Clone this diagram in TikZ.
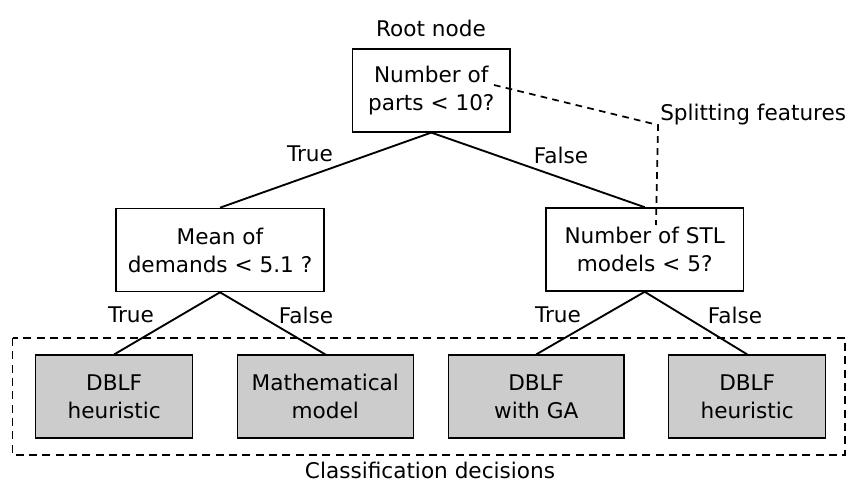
\documentclass[tikz,border=0pt]{standalone}
\usepackage{fontspec}
\setmainfont{DejaVu Sans}
\definecolor{leafgray}{HTML}{CCCCCC}
\begin{document}
\begin{tikzpicture}[x=0.75pt,y=-0.75pt,
  every node/.style={font=\fontsize{16.2}{21}\selectfont, inner sep=0pt},
  splitbox/.style={draw, line width=1.15pt, fill=white, align=center, minimum height=62.3pt},
  leafbox/.style={draw, line width=1.15pt, fill=leafgray, align=center, minimum height=62.3pt},
  edge/.style={line width=1.4pt},
  callout/.style={line width=1.3pt, dash pattern=on 5pt off 4pt},
  lbl/.style={}]
\useasboundingbox (0,0) rectangle (848,484);
% outer dashed group
\draw[line width=1.1pt, dash pattern=on 6pt off 4pt] (12.7,338) rectangle (845,455);
% nodes
\node[lbl] (rootlbl) at (431,28) {Root node};
\node[splitbox, minimum width=118pt] (root) at (431.3,90.3) {Number of\\parts < 10?};
\node[splitbox, minimum width=156pt] (midL) at (220,250) {Mean of\\demands < 5.1 ?};
\node[splitbox, minimum width=148pt] (midR) at (644.7,249.5) {Number of STL\\models < 5?};
\node[leafbox, minimum width=117.75pt] (leaf1) at (114.2,396.7) {DBLF\\heuristic};
\node[leafbox, minimum width=132pt] (leaf2) at (325.3,396.7) {Mathematical\\model};
\node[leafbox, minimum width=131.75pt] (leaf3) at (536.2,396.7) {DBLF\\with GA};
\node[leafbox, minimum width=117.75pt] (leaf4) at (747.2,396.7) {DBLF\\heuristic};
\node[lbl] (cls) at (430,470) {Classification decisions};
\node[lbl, anchor=west] (split) at (660,115) {Splitting features};
% edge labels
\node[lbl] (t1) at (310,154) {True};
\node[lbl] (f1) at (561,155) {False};
\node[lbl] (t2) at (131,315) {True};
\node[lbl] (f2) at (306,315) {False};
\node[lbl] (t3) at (558,315) {True};
\node[lbl] (f3) at (735,315) {False};
% edges
\draw[edge] (root.south) -- (midL.north);
\draw[edge] (root.south) -- (midR.north);
\draw[edge] (midL.south) -- (leaf1.north);
\draw[edge] (midL.south) -- (leaf2.north);
\draw[edge] (midR.south) -- (leaf3.north);
\draw[edge] (midR.south) -- (leaf4.north);
% callout
\coordinate (cA) at (494,85);
\coordinate (cB) at (658,125);
\coordinate (cC) at (656,225);
\draw[callout] (cA) -- (cB) -- (cC);
\end{tikzpicture}
\end{document}
